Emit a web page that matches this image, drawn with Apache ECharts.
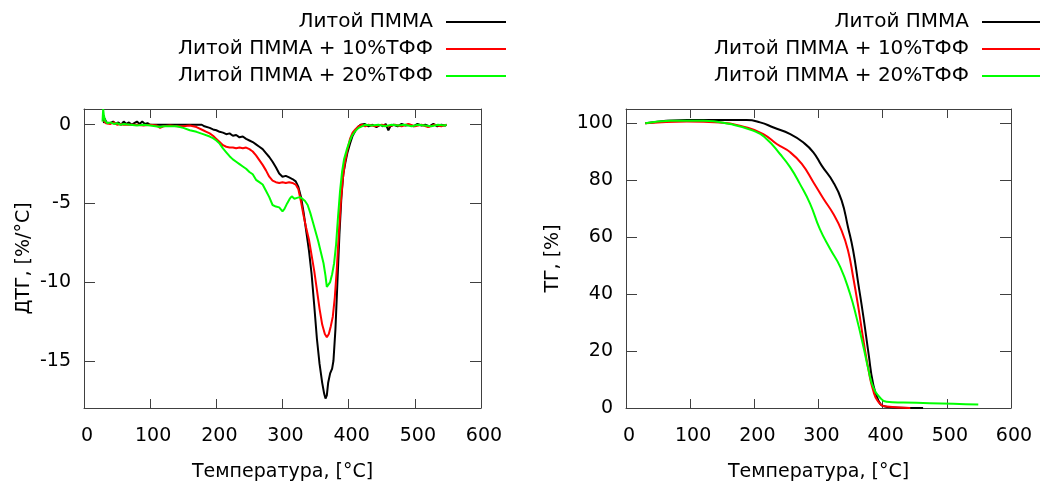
<!DOCTYPE html>
<html>
<head>
<meta charset="utf-8">
<script src="https://cdn.jsdelivr.net/npm/echarts@6/dist/echarts.min.js"></script>
<style>
html,body{margin:0;padding:0;background:#fff;}
#chart{width:1040px;height:489px;}
</style>
</head>
<body>
<div id="chart"></div>
<script>
// ---- data ----
const seriesNames = ['Литой ПММА', 'Литой ПММА + 10%ТФФ', 'Литой ПММА + 20%ТФФ'];
const xTicks = [0, 100, 200, 300, 400, 500, 600];
const dtgTicks = [-15, -10, -5, 0];
const tgTicks = [0, 20, 40, 60, 80, 100];

// DTG, neat PMMA
const dtg0T = [30,31,34,37,40,44,48,52,56,60,64,68,72,76,80,84,88,92,96,100,178,182,185,190,195,200,205,210,215,220,225,230,235,240,245,250,255,260,265,270,275,280,285,290,295,300,305,310,315,320,324,328,332,336,340,344,348,352,356,360,363,365,367,369,372,375,377,380,383,386,389,392,395,398,402,406,410,414,418,424,430,436,442,448,452,456,460,463,468,474,480,486,492,498,504,510,516,522,528,534,540,546,548];
const dtg0V = [0.1,0.4,0.15,0.25,0.1,0.2,0.05,0.15,0.0,0.2,0.05,0.15,0.0,0.1,0.2,0.05,0.2,0.05,0.1,0.0,0.0,-0.1,-0.05,-0.2,-0.3,-0.35,-0.45,-0.5,-0.6,-0.55,-0.7,-0.65,-0.8,-0.75,-0.9,-1.0,-1.1,-1.25,-1.4,-1.55,-1.8,-2.05,-2.35,-2.7,-3.1,-3.3,-3.25,-3.35,-3.45,-3.6,-3.95,-4.6,-5.6,-6.8,-8.0,-9.5,-11.5,-13.6,-15.2,-16.4,-17.1,-17.4,-17.2,-16.4,-15.8,-15.5,-15.0,-13.0,-10.0,-7.0,-4.6,-3.1,-2.4,-1.8,-1.2,-0.7,-0.4,-0.15,0.0,0.05,-0.1,0.0,-0.15,0.0,-0.1,0.05,-0.35,-0.1,0.0,-0.1,0.05,-0.05,0.0,-0.1,0.05,-0.05,0.0,-0.1,0.05,-0.1,0.0,-0.05,0.0];
// DTG, +10%
const dtg1T = [30,33,36,40,45,50,55,60,70,80,90,100,110,115,120,130,140,150,160,170,180,185,190,195,200,205,210,215,220,225,230,235,240,245,250,255,260,265,270,275,280,285,290,295,300,305,310,315,320,324,328,332,336,340,344,348,352,356,360,364,367,370,373,376,379,382,385,388,391,394,398,402,406,410,415,420,425,430,440,450,460,470,480,490,500,510,520,530,540,548];
const dtg1V = [0.25,0.1,0.2,0.05,0.15,0.0,0.05,0.0,0.0,0.0,-0.05,0.0,-0.05,-0.2,-0.1,-0.05,-0.1,-0.1,-0.05,-0.15,-0.35,-0.45,-0.55,-0.7,-0.9,-1.1,-1.3,-1.4,-1.45,-1.45,-1.5,-1.45,-1.5,-1.45,-1.55,-1.7,-1.95,-2.25,-2.55,-2.9,-3.3,-3.55,-3.65,-3.7,-3.65,-3.7,-3.65,-3.7,-3.8,-4.1,-4.9,-5.8,-6.6,-7.3,-8.3,-9.3,-10.5,-11.7,-12.7,-13.3,-13.5,-13.3,-12.8,-12.2,-11.0,-9.2,-7.0,-5.0,-3.5,-2.5,-1.6,-0.9,-0.5,-0.3,-0.1,0.0,-0.1,0.0,-0.1,0.0,-0.1,0.0,-0.1,0.05,-0.1,0.0,-0.15,0.0,-0.1,0.0];
// DTG, +20%
const dtg2T = [28,29,30,32,35,40,45,50,55,60,70,80,90,100,108,111,115,120,130,140,150,160,170,180,190,195,200,205,210,215,220,225,230,235,240,245,250,255,260,265,270,275,280,285,290,295,300,303,307,311,314,318,322,326,330,334,338,342,346,350,354,358,362,365,367,370,372,375,378,381,384,387,390,393,397,401,405,410,415,420,425,435,445,455,465,475,485,495,505,515,525,535,545,548];
const dtg2V = [0.2,1.0,0.6,0.25,0.1,0.15,0.05,0.1,0.0,0.05,0.0,-0.05,0.0,-0.05,-0.1,-0.2,-0.15,-0.1,-0.1,-0.1,-0.2,-0.35,-0.45,-0.6,-0.75,-0.85,-1.0,-1.2,-1.5,-1.75,-2.0,-2.2,-2.35,-2.5,-2.65,-2.8,-3.0,-3.15,-3.5,-3.65,-3.8,-4.2,-4.6,-5.1,-5.2,-5.25,-5.5,-5.35,-5.0,-4.7,-4.55,-4.7,-4.65,-4.6,-4.7,-4.85,-5.1,-5.6,-6.2,-6.8,-7.4,-8.1,-8.8,-9.6,-10.3,-10.3,-10.0,-9.5,-8.8,-7.6,-5.8,-4.2,-3.0,-2.2,-1.6,-1.1,-0.7,-0.4,-0.2,-0.1,0.0,-0.05,0.0,-0.1,0.0,-0.05,0.0,-0.1,0.0,-0.05,-0.1,0.0,-0.05,0.0];

// TG
const tg0T = [30,95,188,209,230,256,276,292,305,323,336,346,354,362,370,378,385,393,401,417,463];
const tg0V = [100,101.1,101.1,100.3,98.5,96.2,93.3,89.8,85.1,79.3,72.9,63.5,55.3,43.7,32,19.1,8.6,2.8,0.7,0.2,0];
const tg1T = [30,95,146,188,214,235,256,274,292,308,323,336,346,354,362,370,378,385,393,406,443];
const tg1V = [100,100.6,100.3,98.5,96.2,92.7,89.8,85.7,79.3,73.4,68.2,62.3,55.3,46,35.5,23.8,13.3,6.3,2.2,0.5,0];
const tg2T = [30,69,121,162,198,219,240,256,271,287,302,318,334,349,359,370,378,385,396,406,432,510,549];
const tg2V = [100,100.9,100.9,99.7,97.4,94.5,89.2,84.5,78.7,71.7,62.9,55.9,49.5,40.2,32,21.5,13.3,7.5,3.6,2.2,1.9,1.5,1.2];

const colors = ['#000000', '#ff0000', '#00ff00'];

// ---- build ----
function pairs(xs, ys) { return xs.map((x, i) => [x, ys[i]]); }
const FONT = 'DejaVu Sans';
const AX = '#404040';

function xAx(grid, pos) {
  const bottom = pos === 'bottom';
  return {
    type: 'value', gridIndex: grid, position: pos, min: 0, max: 600,
    axisLine: {show: true, onZero: false, lineStyle: {color: AX, width: 1}},
    axisTick: {show: true, inside: true, length: 9, lineStyle: {color: AX}, customValues: xTicks},
    axisLabel: {show: bottom, margin: 19, fontFamily: FONT, fontSize: 19, color: '#000', padding: [0, 0, 0, 6], customValues: xTicks},
    splitLine: {show: false},
    name: bottom ? 'Температура, [°C]' : '',
    nameLocation: 'middle', nameGap: 55,
    nameTextStyle: {fontFamily: FONT, fontSize: 19, color: '#000'}
  };
}
function yAx(grid, pos, min, max, ticks, name, gap, margin) {
  const left = pos === 'left';
  return {
    type: 'value', gridIndex: grid, position: pos, min: min, max: max,
    axisLine: {show: true, onZero: false, lineStyle: {color: AX, width: 1}},
    axisTick: {show: true, inside: true, length: 11, lineStyle: {color: AX}, customValues: ticks},
    axisLabel: {show: left, margin: margin, fontFamily: FONT, fontSize: 19, color: '#000', customValues: ticks},
    splitLine: {show: false},
    name: left ? name : '',
    nameLocation: 'middle', nameGap: gap, nameRotate: 90,
    nameTextStyle: {fontFamily: FONT, fontSize: 19, color: '#000'}
  };
}

const series = [];
const dtgSets = [[dtg0T, dtg0V], [dtg1T, dtg1V], [dtg2T, dtg2V]];
const tgSets = [[tg0T, tg0V], [tg1T, tg1V], [tg2T, tg2V]];
dtgSets.forEach((s, i) => series.push({
  type: 'line', name: seriesNames[i], xAxisIndex: 0, yAxisIndex: 0,
  data: pairs(s[0], s[1]), symbol: 'none', smooth: false,
  lineStyle: {color: colors[i], width: 2}, itemStyle: {color: colors[i]}, z: 3 + i
}));
tgSets.forEach((s, i) => series.push({
  type: 'line', name: seriesNames[i], xAxisIndex: 2, yAxisIndex: 2,
  data: pairs(s[0], s[1]), symbol: 'none', smooth: true,
  lineStyle: {color: colors[i], width: 2}, itemStyle: {color: colors[i]}, z: 3 + i
}));

function legendFor(rightPx) {
  return seriesNames.map((n, i) => ({
    data: [{name: n, icon: 'rect'}], orient: 'horizontal', align: 'right', right: rightPx, top: 12 + i * 27,
    padding: 0, itemWidth: 60, itemHeight: 2, selectedMode: false,
    itemStyle: {color: colors[i], borderWidth: 0},
    textStyle: {fontFamily: FONT, fontSize: 20, color: '#000', padding: [0, 8, 0, 0]}
  }));
}

const option = {
  animation: false,
  backgroundColor: '#fff',
  grid: [
    {left: 84, top: 109, width: 397, height: 299},
    {left: 626, top: 109, width: 385, height: 299}
  ],
  xAxis: [xAx(0, 'bottom'), xAx(0, 'top'), xAx(1, 'bottom'), xAx(1, 'top')],
  yAxis: [
    yAx(0, 'left', -18, 1, dtgTicks, 'ДТГ, [%/°C]', 50, 13),
    yAx(0, 'right', -18, 1, dtgTicks, '', 0, 0),
    yAx(1, 'left', 0, 105, tgTicks, 'ТГ, [%]', 63, 13),
    yAx(1, 'right', 0, 105, tgTicks, '', 0, 0)
  ],
  legend: legendFor(534).concat(legendFor(-2)),
  series: series
};

const chart = echarts.init(document.getElementById('chart'), null, {renderer: 'canvas'});
chart.setOption(option);
</script>
</body>
</html>
